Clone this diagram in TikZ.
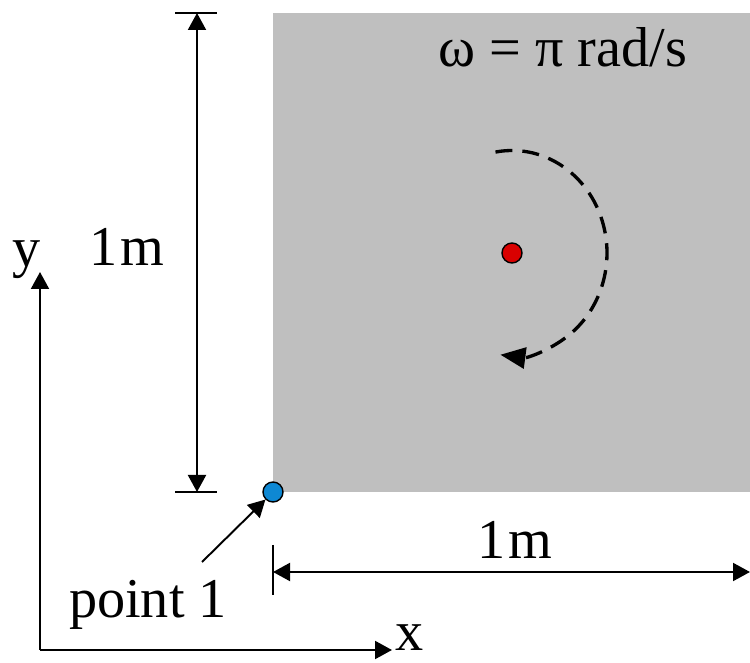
\documentclass[tikz,border=0pt]{standalone}
\usepackage{fontspec}
\setmainfont{Liberation Serif}
\usepackage{tikz}
\usetikzlibrary{arrows.meta,positioning}

\begin{document}
\begin{tikzpicture}[>={Triangle[length=3.4mm,width=3.6mm]}, line width=1.1pt,
  dot/.style={circle, draw=black, line width=0.8pt, inner sep=0pt, minimum size=4mm},
  lbl/.style={font=\fontsize{32}{36}\selectfont, inner sep=0pt}]
\useasboundingbox (0,0) rectangle (15,13.24);
\fill[gray!50] (5.46,3.40) rectangle (15,12.98);
\node[dot, fill=red!85!black] (C) at (10.24,8.18) {};
\node[dot, fill=cyan!70!blue] (P1) at (5.46,3.40) {};
% vertical dimension
\coordinate (VT) at (3.94,12.98);
\coordinate (VB) at (3.94,3.40);
\draw (3.50,12.98) -- (4.34,12.98);
\draw (3.50,3.40) -- (4.34,3.40);
\draw[<->] (VT) -- (VB);
\node[lbl] (LV) at (2.54,8.30) {1\kern2pt m};
% horizontal dimension
\coordinate (HL) at (5.46,1.80);
\coordinate (HR) at (15,1.80);
\draw (5.46,2.34) -- (5.46,1.34);
\draw[<->] (HL) -- (HR);
\node[lbl] (LH) at (10.3,2.44) {1\kern2pt m};
% point 1
\node[lbl] (T1) at (2.96,1.14) {point 1};
\coordinate (A1) at (4.04,2.00);
\draw[->] (A1) -- (P1.225);
% axes
\coordinate (O) at (0.8,0.24);
\coordinate (Y) at (0.8,7.80);
\coordinate (X) at (7.84,0.24);
\draw[->] (O) -- (Y);
\draw[->] (O) -- (X);
\node[lbl] (LY) at (0.54,8.05) {y};
\node[lbl] (LX) at (8.2,0.48) {x};
% rotation
\node[lbl] (W) at (11.26,12.30) {ω = π rad/s};
\draw[-{Triangle[length=5mm,width=4.2mm]}, dash pattern=on 0.34cm off 0.2cm, line width=1.9pt]
  ([shift={(100:1.9cm and 2.05cm)}]C.center) arc[start angle=100, end angle=-97, x radius=1.9cm, y radius=2.05cm];
\end{tikzpicture}
\end{document}
